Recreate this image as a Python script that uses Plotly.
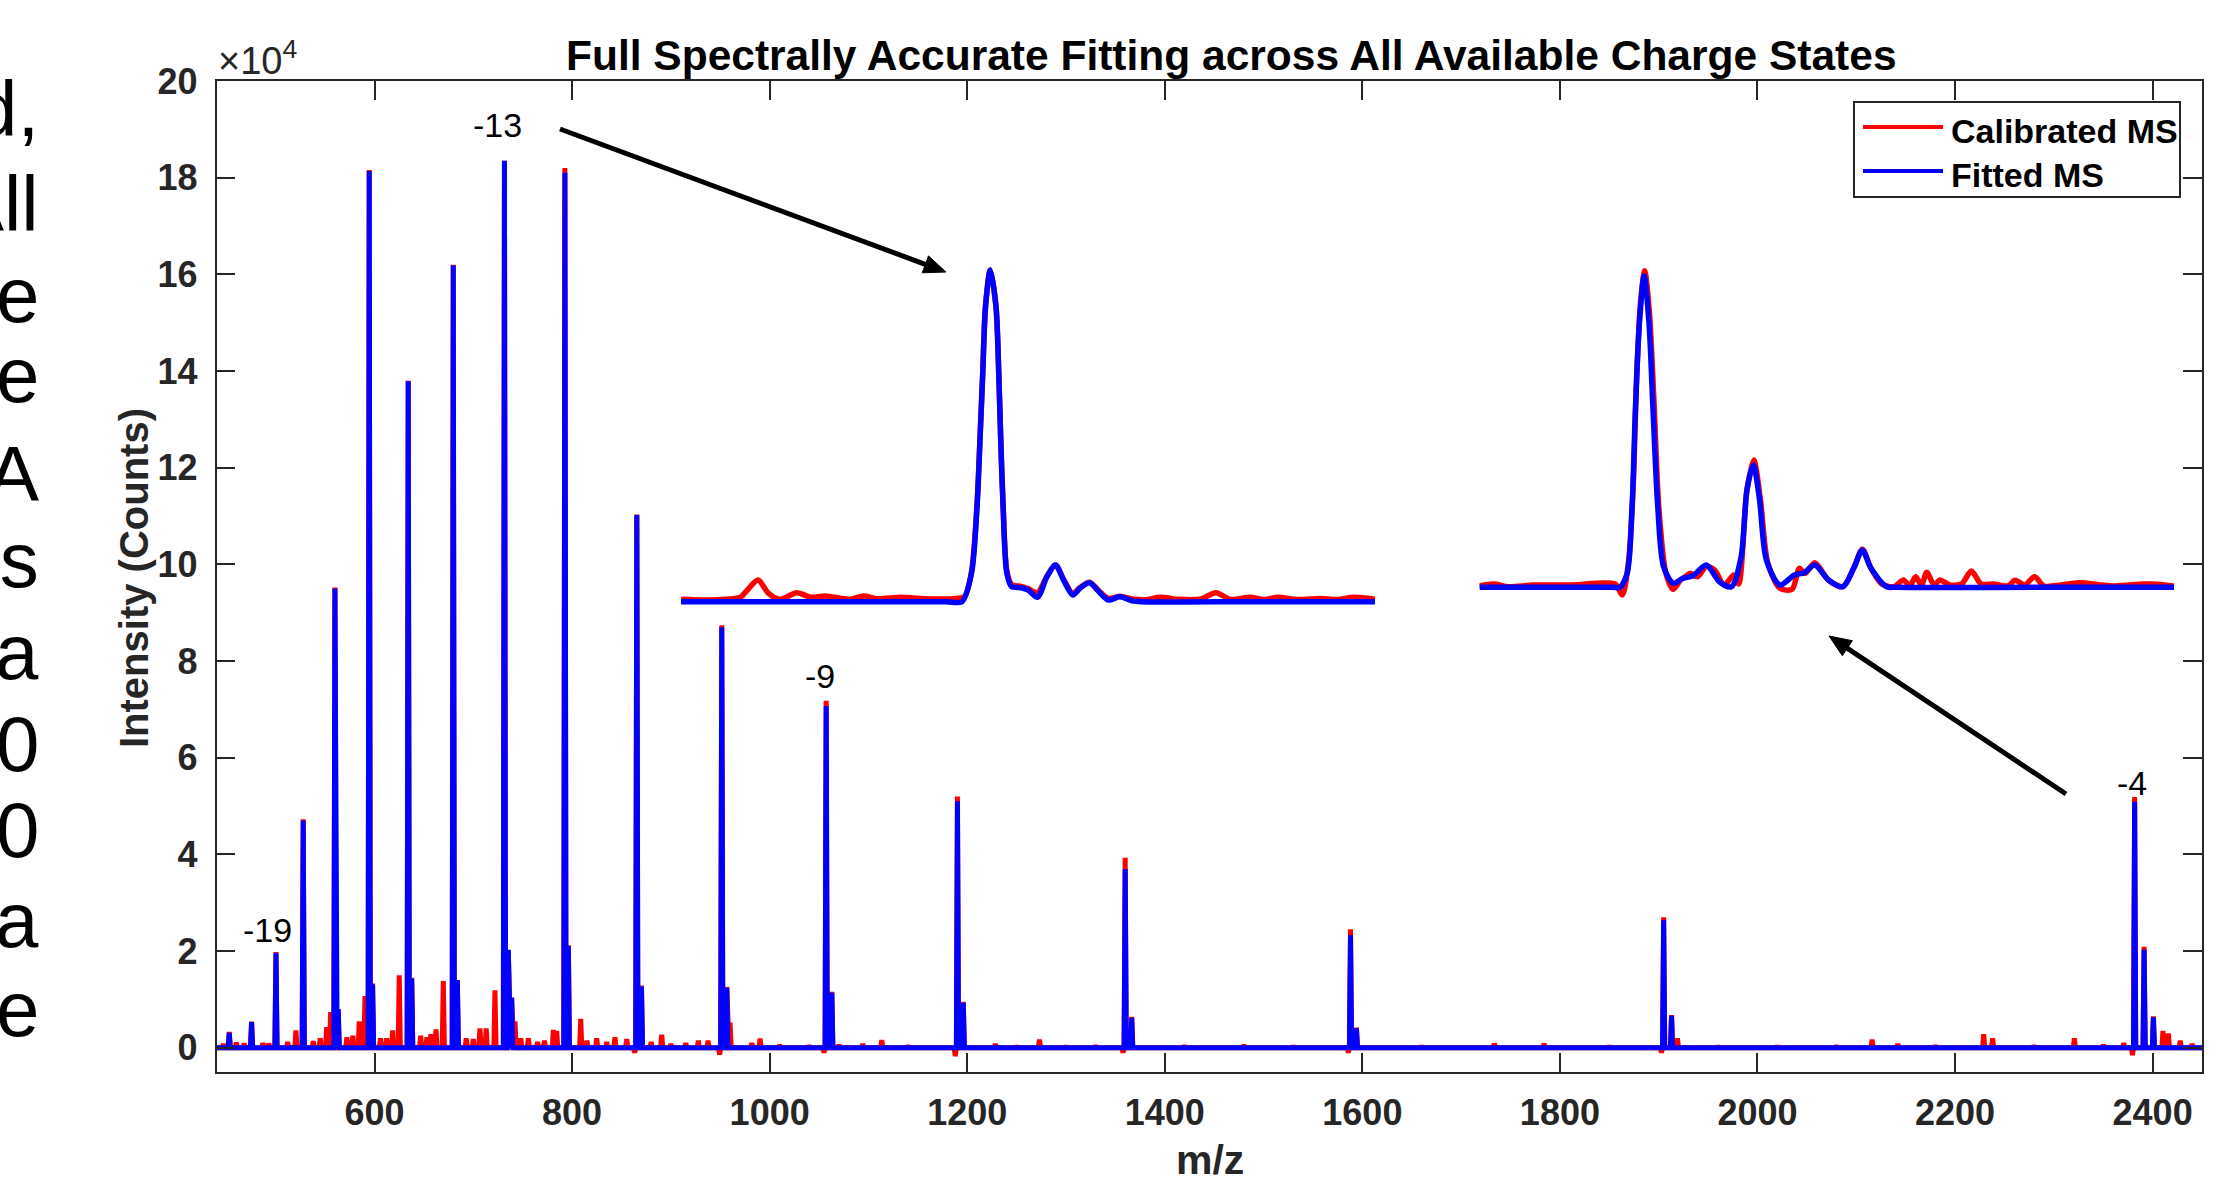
import math
import plotly.graph_objects as go

W, H = 2226, 1184

# ---------------- data ----------------
# Fitted MS (blue): apex positions (m/z) and intensities (counts)
fitted_mz = [452.9, 475.5, 500.2, 527.8, 559.9, 563.2, 594.6, 598.0, 634.1, 637.6,
             679.7, 683.8, 731.5, 735.4, 738.8, 792.7, 796.2, 865.5, 870.2, 951.5,
             956.6, 1057.2, 1062.9, 1190.1, 1196.0, 1359.9, 1366.5, 1588.0, 1594.0,
             1905.0, 1913.0, 2381.8, 2391.4, 2400.8]
fitted_int = [3100, 5300, 19600, 47000, 95000, 7900, 181400, 13100, 137900, 14300,
              161900, 14000, 183500, 20300, 10400, 181000, 21000, 110200, 12700, 87000,
              12400, 70700, 11400, 51000, 9300, 37000, 6200, 23300, 4000,
              26400, 6600, 50900, 20300, 6300]

# Calibrated MS (red): apex positions (m/z) and intensities (counts), incl. noise and dips
calib_mz = [447, 452.9, 460, 468, 475.5, 487, 493, 500.2, 512, 520.4, 527.8, 538, 545,
            551.5, 555.5, 559.9, 563.2, 572, 578, 584.5, 590.3, 594.6, 598.0, 606, 612.2,
            618.3, 625.0, 634.1, 637.6, 646.7, 653, 657, 662.2, 669.6, 679.7, 683.8,
            692.8, 700, 706.7, 713, 721.9, 731.5, 735.4, 738.8, 742.2, 748, 755.7, 765,
            772, 781, 784.4, 792.7, 796.2, 808.7, 815, 824.9, 835, 843.4, 855.3, 863.3,
            865.5, 870.2, 880, 890.7, 900, 915, 927.8, 937.6, 949.3, 951.5, 956.6, 959.9,
            981.9, 990.3, 1010, 1040, 1055.0, 1057.2, 1062.9, 1070, 1094.3, 1113.5, 1140,
            1187.9, 1190.1, 1196.0, 1228.4, 1250, 1273.1, 1300, 1330, 1357.7, 1359.9,
            1366.5, 1420, 1480, 1530, 1585.8, 1588.0, 1594.0, 1660, 1733.6, 1784, 1850,
            1902.8, 1905.0, 1913.0, 1919, 1960, 2020, 2080, 2116, 2142, 2180, 2229, 2238,
            2280, 2320.8, 2350, 2370.8, 2379.6, 2381.8, 2391.4, 2400.8, 2410.5, 2416,
            2428, 2440]
calib_int = [800, 3300, 1100, 900, 5400, 1000, 900, 19800, 1200, 3600, 47300, 1400, 2000,
             4300, 7400, 95200, 8000, 2200, 2500, 5500, 10700, 181600, 13300, 2000, 2000,
             3600, 15000, 138000, 14500, 2500, 2200, 2800, 3800, 13800, 162000, 14000,
             2000, 1800, 4000, 4000, 11900, 183500, 20000, 10000, 5500, 2000, 2000, 1200,
             1500, 3700, 3500, 182000, 21200, 6000, 1500, 2000, 1200, 2200, 1800, -1000,
             110300, 12900, 1200, 2700, 800, 1000, 1500, 1500, -1400, 87400, 12600, 5200,
             1000, 1900, 600, 500, -1000, 71800, 11600, 600, 800, 1600, 500,
             -1700, 52000, 9500, 800, 400, 1700, 400, 500, -1000, 39300,
             6400, 500, 600, 400, -1000, 24500, 4200, 400, 900, 900, 400,
             -1000, 27000, 6800, 2000, 400, 400, 500, 1700, 800, 500, 2800, 2000,
             500, 2000, 600, 1000, -1500, 51900, 20900, 6500, 3500, 3000,
             1500, 800]

# Inset 1 (charge state -13, zoomed around m/z 731)
inset1_fit_mz = [716.1, 723.0, 729.5, 730.32, 730.8, 731.08, 731.23, 731.37, 731.51, 731.75,
                 732.04, 732.18, 732.28, 732.4, 732.59, 732.83, 733.31, 733.67, 734.14,
                 734.62, 735.05, 735.46, 735.93, 736.29, 736.77, 737.25, 737.73, 738.32,
                 738.92, 739.4, 745.0, 751.22]
inset1_fit_int = [0, 0, 0, 0, 15700, 52560, 89450, 126350, 163200, 183500,
                  163200, 126350, 89450, 52560, 15700, 8300, 7750, 6470, 2430,
                  13830, 20300, 12000, 3700, 7400, 10500, 5530, 940, 2770,
                  550, 0, 0, 0]
inset1_cal_mz = [716.11, 717.43, 719.1, 719.46, 720.0, 720.53, 721.13, 721.96, 722.68, 723.4,
                 724.59, 725.36, 726.02, 727.22, 728.41, 729.84, 730.44, 730.8, 731.08,
                 731.23, 731.37, 731.51, 731.75, 732.04, 732.18, 732.28, 732.4, 732.59,
                 732.83, 733.31, 733.67, 734.14, 734.62, 735.05, 735.46, 735.93, 736.29,
                 736.77, 737.25, 737.73, 738.32, 738.92, 739.6, 740.35, 741.31, 742.4,
                 743.17, 743.9, 744.89, 745.6, 746.32, 747.3, 748.47, 749.3, 750.14, 751.22]
inset1_cal_int = [1330, 940, 2430, 6470, 11990, 4590, 1330, 4960, 2430, 3170,
                  1330, 3170, 1700, 2430, 1700, 1700, 2800, 16500, 53500,
                  90000, 127000, 163500, 183500, 163500, 127000, 90000, 53500, 17000,
                  9500, 8500, 7200, 5000, 14000, 20300, 12500, 4500, 7800,
                  10800, 6000, 1800, 3000, 1500, 1100, 2400, 1300, 1500,
                  5000, 1300, 2400, 1200, 2400, 1200, 1800, 1200, 2400, 1330]

# Inset 2 (charge state -4, zoomed around m/z 2382)
inset2_fit_mz = [2367.3, 2374.0, 2379.0, 2379.67, 2380.31, 2380.74, 2381.04, 2381.38, 2381.8,
                 2382.23, 2382.57, 2383.0, 2383.51, 2384.36, 2385.22, 2386.07, 2387.27,
                 2388.42, 2389.49, 2390.34, 2390.85, 2391.41, 2391.96, 2392.56, 2393.75,
                 2395.03, 2395.89, 2396.82, 2398.02, 2399.3, 2400.24, 2401.01, 2401.77,
                 2403.14, 2404.0, 2416.0, 2428.44]
inset2_fit_int = [0, 0, 0, 0, 2300, 13200, 29600, 43270, 51020,
                  43270, 29600, 13200, 3380, 660, 1480, 1860, 3660,
                  920, 100, 5020, 15950, 20050, 14310, 4480, 380,
                  2020, 2400, 3660, 1200, 100, 3110, 6110, 3110,
                  100, 0, 0, 0]
inset2_cal_mz = [2367.3, 2368.58, 2369.86, 2371.99, 2375.4, 2379.24, 2379.88, 2380.44, 2380.82,
                 2381.16, 2381.5, 2381.85, 2382.27, 2382.66, 2383.09, 2383.72, 2384.36,
                 2385.0, 2385.43, 2385.86, 2386.5, 2387.27, 2387.99, 2388.85, 2389.7,
                 2390.12, 2390.85, 2391.45, 2392.04, 2392.69, 2393.75, 2394.82, 2395.46,
                 2395.97, 2396.82, 2398.02, 2399.3, 2400.24, 2401.01, 2401.77, 2402.71,
                 2403.78, 2404.63, 2405.19, 2405.7, 2406.21, 2406.68, 2407.32, 2407.83,
                 2408.69, 2409.75, 2410.6, 2411.46, 2412.53, 2413.81, 2414.45, 2415.3,
                 2416.16, 2417.0, 2418.5, 2420.21, 2421.91, 2423.2, 2425.75, 2426.6, 2428.44]
inset2_cal_int = [220, 540, 100, 360, 380, 540, -1260, 4480, 15950,
                  35070, 47090, 51890, 44900, 30700, 13200, 2300, -330,
                  1200, 1740, 2300, 1740, 3390, 2840, 380, 2020,
                  540, 15950, 20870, 14310, 3930, -160, -330, 3110,
                  2300, 4030, 1200, 100, 3110, 6220, 3110, 540,
                  100, 1200, 220, 1740, 380, 2460, 380, 1200,
                  380, 540, 2670, 540, 540, 220, 1150, 380,
                  1740, 220, 380, 750, 380, 220, 540, 540, 220]

x_ticks = [600, 800, 1000, 1200, 1400, 1600, 1800, 2000, 2200, 2400]
y_ticks = [0, 20000, 40000, 60000, 80000, 100000, 120000, 140000, 160000, 180000, 200000]
y_tick_labels = ["0", "2", "4", "6", "8", "10", "12", "14", "16", "18", "20"]

charge_labels = ["-19", "-13", "-9", "-4"]
left_text = ["d,", "All", "e", "e", "A", "ts", "a", "0", "0", "a", "e"]

# ---------------- helpers ----------------
X_RANGE = [440, 2450]
Y_RANGE = [-5000, 200000]


def px(x):
    return x / W


def py(y):
    return 1 - y / H


def stick_line(mz, inten, half_width=1.1):
    pts = sorted(zip(mz, inten))
    xs, ys = [X_RANGE[0]], [0]
    for i, (m, h) in enumerate(pts):
        if m - half_width > xs[-1]:
            xs.append(m - half_width)
            ys.append(0)
        xs.append(m)
        ys.append(h)
        nxt = pts[i + 1][0] - half_width if i + 1 < len(pts) else X_RANGE[1]
        if m + half_width < nxt:
            xs.append(m + half_width)
            ys.append(0)
    xs.append(X_RANGE[1])
    ys.append(0)
    return xs, ys


def arrow_shapes(tail, tip, width=5, head_len=22, head_half=9, color="black"):
    dx, dy = tip[0] - tail[0], tip[1] - tail[1]
    ln = math.hypot(dx, dy)
    ux, uy = dx / ln, dy / ln
    nx, ny = -uy, ux
    bx, by = tip[0] - head_len * ux, tip[1] - head_len * uy
    line = dict(type="line", xref="paper", yref="paper",
                x0=px(tail[0]), y0=py(tail[1]), x1=px(bx + 2 * ux), y1=py(by + 2 * uy),
                line=dict(color=color, width=width), layer="above")
    p1 = (bx + head_half * nx, by + head_half * ny)
    p2 = (bx - head_half * nx, by - head_half * ny)
    path = "M {:.5f} {:.5f} L {:.5f} {:.5f} L {:.5f} {:.5f} Z".format(
        px(tip[0]), py(tip[1]), px(p1[0]), py(p1[1]), px(p2[0]), py(p2[1]))
    head = dict(type="path", xref="paper", yref="paper", path=path,
                fillcolor=color, line=dict(color=color, width=1), layer="above")
    return [line, head]


RED = "#FF0000"
BLUE = "#0000FF"
AX = "#262626"
FONT = "Liberation Sans, Arial, Helvetica, sans-serif"

fig = go.Figure()

cx, cy = stick_line(calib_mz, calib_int)
fx, fy = stick_line(fitted_mz, fitted_int)
fig.add_trace(go.Scatter(x=cx, y=cy, mode="lines", name="Calibrated MS",
                         line=dict(color=RED, width=5), showlegend=False,
                         xaxis="x", yaxis="y"))
fig.add_trace(go.Scatter(x=fx, y=fy, mode="lines", name="Fitted MS",
                         line=dict(color=BLUE, width=5), showlegend=False,
                         xaxis="x", yaxis="y"))

# insets
fig.add_trace(go.Scatter(x=inset1_cal_mz, y=inset1_cal_int, mode="lines",
                         line=dict(color=RED, width=5.5, shape="spline", smoothing=0.8),
                         showlegend=False, xaxis="x2", yaxis="y2"))
fig.add_trace(go.Scatter(x=inset1_fit_mz, y=inset1_fit_int, mode="lines",
                         line=dict(color=BLUE, width=5.5, shape="spline", smoothing=0.8),
                         showlegend=False, xaxis="x2", yaxis="y2"))
fig.add_trace(go.Scatter(x=inset2_cal_mz, y=inset2_cal_int, mode="lines",
                         line=dict(color=RED, width=5.5, shape="spline", smoothing=0.8),
                         showlegend=False, xaxis="x3", yaxis="y3"))
fig.add_trace(go.Scatter(x=inset2_fit_mz, y=inset2_fit_int, mode="lines",
                         line=dict(color=BLUE, width=5.5, shape="spline", smoothing=0.8),
                         showlegend=False, xaxis="x3", yaxis="y3"))

tickfont = dict(family=FONT, size=36, color=AX, weight="bold")
axis_common = dict(showline=True, linecolor=AX, linewidth=1.5, mirror="allticks",
                   ticks="inside", ticklen=19, tickwidth=1.5, tickcolor=AX,
                   showgrid=False, zeroline=False, tickfont=tickfont, automargin=False)

hidden = dict(visible=False, showgrid=False, zeroline=False, fixedrange=True, automargin=False)

fig.update_layout(
    template="none",
    width=W, height=H, autosize=False,
    margin=dict(l=0, r=0, t=0, b=0, pad=0),
    paper_bgcolor="white", plot_bgcolor="rgba(0,0,0,0)",
    xaxis=dict(domain=[px(216.5), px(2202)], range=X_RANGE, tickvals=x_ticks,
               ticktext=[str(v) for v in x_ticks], ticklabelstandoff=8, **axis_common),
    yaxis=dict(domain=[py(1072), py(81)], range=Y_RANGE, tickvals=y_ticks,
               ticktext=y_tick_labels, ticklabelstandoff=10, **axis_common),
    xaxis2=dict(domain=[px(681), px(1375)], range=[716.1, 751.22], anchor="y2", **hidden),
    yaxis2=dict(domain=[py(615), py(250)], range=[-7358, 194560], anchor="x2", **hidden),
    xaxis3=dict(domain=[px(1479.4), px(2174)], range=[2367.3, 2428.44], anchor="y3", **hidden),
    yaxis3=dict(domain=[py(610), py(250)], range=[-3720, 55283], anchor="x3", **hidden),
    showlegend=False,
)

ann = []
# title
ann.append(dict(text="<b>Full Spectrally Accurate Fitting across All Available Charge States</b>",
                x=px(1231.5), y=py(56), xref="paper", yref="paper", showarrow=False,
                xanchor="center", yanchor="middle",
                font=dict(family=FONT, size=42.5, color="black")))
# axis titles
ann.append(dict(text="<b>m/z</b>", x=px(1210), y=py(1160), xref="paper", yref="paper",
                showarrow=False, xanchor="center", yanchor="middle",
                font=dict(family=FONT, size=41, color=AX)))
ann.append(dict(text="<b>Intensity (Counts)</b>", x=px(134), y=py(578), xref="paper",
                yref="paper", showarrow=False, xanchor="center", yanchor="middle",
                textangle=-90, font=dict(family=FONT, size=40, color=AX)))
# exponent
ann.append(dict(text="\u00d710<sup>4</sup>", x=px(216), y=py(58), xref="paper", yref="paper",
                showarrow=False, xanchor="left", yanchor="middle",
                font=dict(family=FONT, size=38, color=AX)))
# charge-state labels
label_pos = [(267, 930), (497, 125), (820, 676), (2132, 783)]
for t, (lx, ly) in zip(charge_labels, label_pos):
    ann.append(dict(text=t, x=px(lx), y=py(ly), xref="paper", yref="paper", showarrow=False,
                    xanchor="center", yanchor="middle",
                    font=dict(family=FONT, size=34, color="black")))
# left clipped paragraph text
baselines = [137, 232, 323, 403, 502, 588, 680, 772, 858, 948, 1037]
for t, b in zip(left_text, baselines):
    ann.append(dict(text=t, x=px(41), y=py(b - 28), xref="paper", yref="paper",
                    showarrow=False, xanchor="right", yanchor="middle",
                    font=dict(family=FONT, size=78, color="black")))
# legend text
ann.append(dict(text="<b>Calibrated MS</b>", x=px(1949), y=py(131), xref="paper", yref="paper",
                showarrow=False, xanchor="left", yanchor="middle",
                font=dict(family=FONT, size=34, color="black")))
ann.append(dict(text="<b>Fitted MS</b>", x=px(1949), y=py(175), xref="paper", yref="paper",
                showarrow=False, xanchor="left", yanchor="middle",
                font=dict(family=FONT, size=34, color="black")))

shapes = [
    dict(type="rect", xref="paper", yref="paper", x0=px(1854), x1=px(2180), y0=py(197),
         y1=py(102), line=dict(color=AX, width=2), fillcolor="white", layer="above"),
    dict(type="line", xref="paper", yref="paper", x0=px(1863), x1=px(1943), y0=py(127),
         y1=py(127), line=dict(color=RED, width=4), layer="above"),
    dict(type="line", xref="paper", yref="paper", x0=px(1863), x1=px(1943), y0=py(171),
         y1=py(171), line=dict(color=BLUE, width=4), layer="above"),
]
# arrows pointing from the charge labels to the zoomed insets
shapes += arrow_shapes((560, 129), (946, 272))
shapes += arrow_shapes((2066, 794), (1829, 636))

fig.update_layout(annotations=ann, shapes=shapes)

fig.write_html("out.html", config={"displayModeBar": False},
               post_script="document.body.style.margin='0px';document.body.style.overflow='hidden';")
